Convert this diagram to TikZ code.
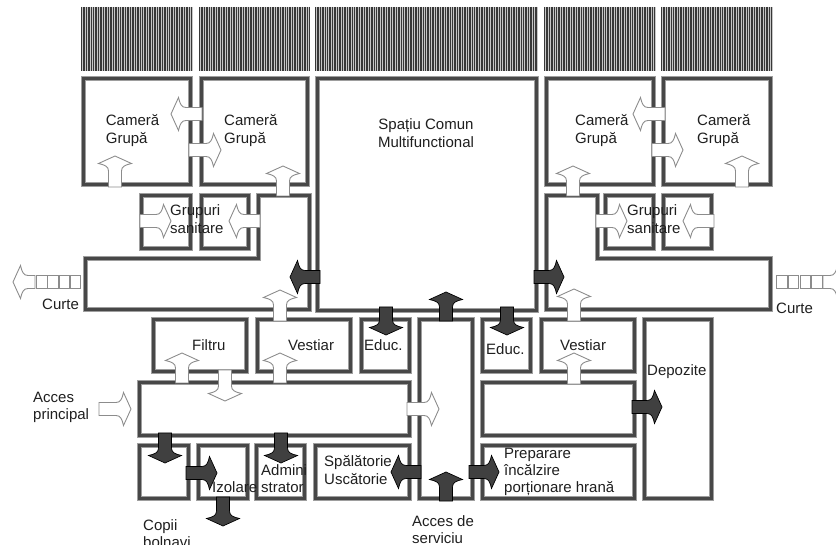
\documentclass[tikz,border=0pt]{standalone}
\usepackage{fontspec}
\setmainfont{Liberation Sans}
\tikzset{
  x=1pt,y=-1pt,
  lbl/.style={anchor=base west,inner sep=0pt,align=left,text=black!88,font=\fontsize{15}{17.4}\selectfont},
  lblc/.style={lbl,align=center,anchor=base},
  hatchline/.style={line width=1.45pt,draw=black!78},
  lightarrow/.style={fill=white,draw=black!45,line width=0.9pt,line join=miter},
  darkarrow/.style={fill=black!75,draw=black,line width=0.7pt,line join=miter},
  cell/.style={draw=black!38,line width=5.6pt,line join=miter},
  cellcore/.style={draw=black!72,line width=3.4pt,line join=miter}
}
\newcommand{\wallrect}[4]{%
  \draw[cell] (#1+2.5,#2+2.5) rectangle (#3-2.5,#4-2.5);
  \draw[cellcore] (#1+2.5,#2+2.5) rectangle (#3-2.5,#4-2.5);}
% \flow{style}{tip x}{tip y}{rotation}{length}
\newcommand{\flow}[5]{%
  \begin{scope}[shift={(#2,#3)},rotate=#4]
    \path[#1] (0,0) -- (16.5,7.5) .. controls (10,9) and (6.5,10.5) .. (6.5,15)
      -- (6.5,#5) -- (-6.5,#5) -- (-6.5,15)
      .. controls (-6.5,10.5) and (-10,9) .. (-16.5,7.5) -- cycle;
  \end{scope}}
% \hatchbar{first}{second}{last}
\newcommand{\hatchbar}[3]{%
  \fill[black!22] (#1,7) rectangle (#3,71);
  \foreach \hx in {#1,#2,...,#3} {\draw[hatchline] (\hx,7) -- (\hx,71);}}
\begin{document}
\begin{tikzpicture}
\useasboundingbox (0,0) rectangle (836,545);
\clip (0,0) rectangle (836,545);
\fill[white] (0,0) rectangle (836,545);

% window bands
\hatchbar{81.5}{83.95}{193}
\hatchbar{199.5}{201.95}{310}
\hatchbar{315.5}{317.95}{538}
\hatchbar{544.5}{546.95}{656}
\hatchbar{661.5}{663.95}{773}

% rooms
\wallrect{81}{76}{193}{187}
\wallrect{199}{76}{310}{187}
\wallrect{315}{76}{539}{313}
\wallrect{544}{76}{656}{187}
\wallrect{661}{76}{773}{187}
\wallrect{139}{193}{193}{251}
\wallrect{199}{193}{251}{251}
\wallrect{603}{193}{656}{251}
\wallrect{661}{193}{714}{251}
\wallrect{151}{317}{249}{374}
\wallrect{255}{317}{353}{374}
\wallrect{359}{317}{412}{374}
\wallrect{417}{317}{475}{501}
\wallrect{480}{317}{533}{374}
\wallrect{539}{317}{637}{374}
\wallrect{642}{317}{714}{501}
\wallrect{137}{380}{412}{438}
\wallrect{480}{380}{637}{438}
\wallrect{137}{443}{191}{501}
\wallrect{196}{443}{250}{501}
\wallrect{254}{443}{307}{501}
\wallrect{313}{443}{412}{501}
\wallrect{480}{443}{637}{501}
% L-shaped corridors
\foreach \st in {cell,cellcore}{
  \draw[\st] (258.5,195.5) -- (309.5,195.5) -- (309.5,309.5) -- (85.5,309.5) -- (85.5,258.5) -- (258.5,258.5) -- cycle;
  \draw[\st] (546.5,195.5) -- (597.5,195.5) -- (597.5,258.5) -- (770.5,258.5) -- (770.5,309.5) -- (546.5,309.5) -- cycle;
}

% courtyard paths
\foreach \sx in {36,47.25,58.5,69.75,776,787.75,799.5,811.25}{
  \draw[draw=black!45,line width=0.9pt,fill=white] (\sx+0.5,275) rectangle (\sx+11,288);
}

% light arrows
\flow{lightarrow}{115}{156}{0}{31}
\flow{lightarrow}{171}{114}{90}{31}
\flow{lightarrow}{221}{150}{-90}{32}
\flow{lightarrow}{283}{166}{0}{30}
\flow{lightarrow}{171}{221}{-90}{31}
\flow{lightarrow}{229}{221}{90}{31}
\flow{lightarrow}{13}{282}{90}{22}
\flow{lightarrow}{845}{282}{-90}{22}
\flow{lightarrow}{182}{353}{0}{30}
\flow{lightarrow}{225}{401}{180}{31}
\flow{lightarrow}{280}{353}{0}{30}
\flow{lightarrow}{131}{409}{-90}{32}
\flow{lightarrow}{439}{409}{-90}{32}
\flow{lightarrow}{574}{353}{0}{31}
\flow{lightarrow}{633}{114}{90}{32}
\flow{lightarrow}{683}{150}{-90}{31}
\flow{lightarrow}{742}{156}{0}{31}
\flow{lightarrow}{573}{166}{0}{30}
\flow{lightarrow}{627}{221}{-90}{31}
\flow{lightarrow}{683}{221}{90}{31}

% dark arrows
\flow{darkarrow}{290}{277}{90}{30}
\flow{darkarrow}{564}{277}{-90}{30}
\flow{darkarrow}{446}{292}{0}{29}
\flow{darkarrow}{386}{335}{180}{28}
\flow{darkarrow}{507}{335}{180}{28}
\flow{darkarrow}{446}{472}{0}{29}
\flow{darkarrow}{391}{472}{90}{30}
\flow{darkarrow}{499}{472}{-90}{30}
\flow{darkarrow}{662}{407}{-90}{30}
\flow{darkarrow}{165}{463}{180}{30}
\flow{darkarrow}{217}{473}{-90}{31}
\flow{darkarrow}{281}{463}{180}{30}
\flow{darkarrow}{223}{526}{180}{29}

% arrows standing over the corridor walls
\flow{lightarrow}{280}{290}{0}{31}
\flow{lightarrow}{574}{289}{0}{32}

% labels (multi-line nodes are placed by the baseline of their last line)
\node[lbl] (camA) at (105.7,143.4) {Cameră\\Grupă};
\node[lbl] (camB) at (224,143.4) {Cameră\\Grupă};
\node[lbl] (camC) at (575,143.4) {Cameră\\Grupă};
\node[lbl] (camD) at (697,143.4) {Cameră\\Grupă};
\node[lblc] (common) at (426,147.4) {Spațiu Comun\\Multifunctional};
\node[lbl] (sanL) at (170,233.4) {Grupuri\\sanitare};
\node[lbl] (sanR) at (627,233.4) {Grupuri\\sanitare};
\node[lbl] (curteL) at (42,310) {Curte};
\node[lbl] (curteR) at (776,314) {Curte};
\node[lbl] (filtru) at (192,351) {Filtru};
\node[lbl] (vestL) at (288,351) {Vestiar};
\node[lbl] (vestR) at (560,351) {Vestiar};
\node[lbl] (educL) at (364,351) {Educ.};
\node[lbl] (educR) at (486,355) {Educ.};
\node[lbl] (depo) at (647,376) {Depozite};
\node[lbl] (acces) at (33,419.4) {Acces\\principal};
\node[lbl] (admin) at (261,492.4) {Admini\\strator};
\node[lbl] (izol) at (212,492) {Izolare};
\node[lbl] (copii) at (143,547.4) {Copii\\bolnavi};
\node[lbl] (spal) at (324,484.4) {Spălătorie\\Uscătorie};
\node[lbl] (prep) at (504,492.8) {Preparare\\încălzire\\porționare hrană};
\node[lbl] (serv) at (412,543.4) {Acces de\\serviciu};
\end{tikzpicture}
\end{document}
